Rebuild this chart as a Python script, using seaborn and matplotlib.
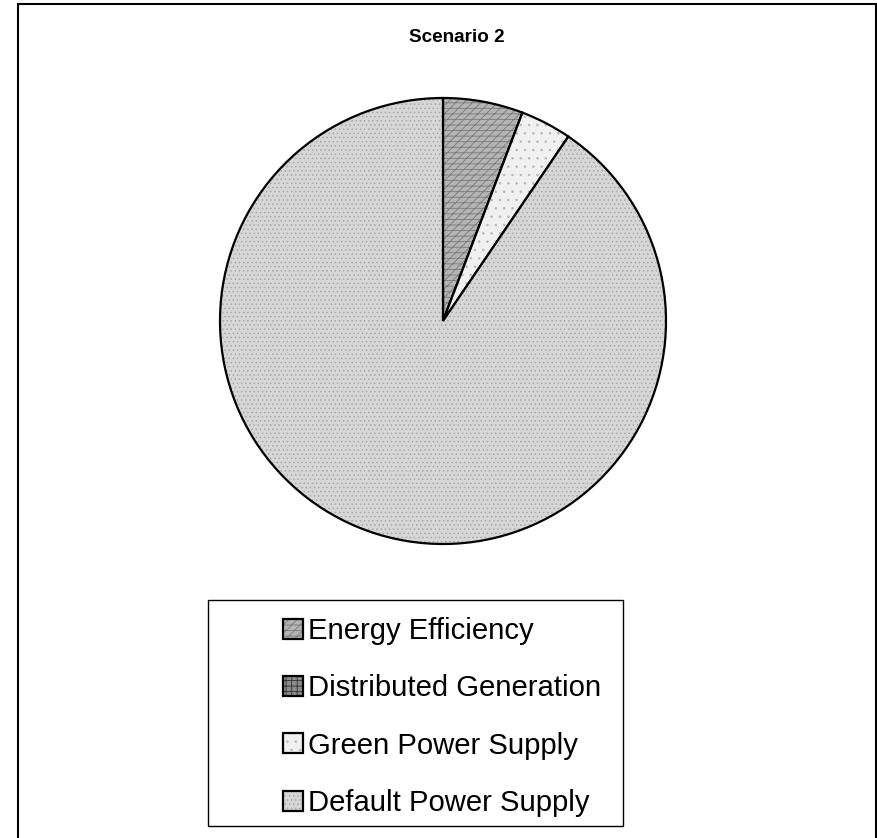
import matplotlib
matplotlib.use("Agg")
import matplotlib.pyplot as plt
import seaborn as sns
from matplotlib.patches import Rectangle, Patch

sns.set_theme(style="white")
plt.rcParams["font.family"] = ["Liberation Sans", "DejaVu Sans"]
plt.rcParams["text.color"] = "black"
plt.rcParams["hatch.linewidth"] = 0.6

title = "Scenario 2"
categories = ["Energy Efficiency", "Distributed Generation",
              "Green Power Supply", "Default Power Supply"]
shares = [5.8, 0.0, 3.7, 90.5]

faces = ["#b4b4b4", "#8c8c8c", "#f0f0f0", "#d6d6d6"]
hatches = ["////---", "+++", "..", "...."]
hatch_colors = ["#7a7a7a", "#303030", "#b8b8b8", "#a8a8a8"]

W, H = 878, 838
fig = plt.figure(figsize=(W / 100, H / 100), dpi=100)
fig.patch.set_facecolor("white")

# outer chart border
fig.patches.append(Rectangle((18 / W, -0.01), (876 - 18) / W, 1 - 4 / H + 0.01,
                             transform=fig.transFigure, fill=False,
                             edgecolor="black", linewidth=1.5))

cx, cy, r = 443, 321, 223
ax = fig.add_axes([(cx - r) / W, 1 - (cy + r) / H, 2 * r / W, 2 * r / H])
wedges, _ = ax.pie(shares, startangle=90, counterclock=False,
                   wedgeprops=dict(edgecolor="black", linewidth=1.6))
for w, fc, hc, ht in zip(wedges, faces, hatch_colors, hatches):
    w.set_facecolor(fc)
    w.set_hatch(ht)
    w._hatch_color = matplotlib.colors.to_rgba(hc)
ax.set_xlim(-1.0, 1.0)
ax.set_ylim(-1.0, 1.0)
ax.axis("off")

fig.text(457 / W, 1 - 37 / H, title, ha="center", va="center",
         fontsize=13.6, fontweight="bold", color="black")

# legend frame
fig.patches.append(Rectangle((208 / W, 1 - 826 / H), (623 - 208) / W, (826 - 600) / H,
                             transform=fig.transFigure, fill=False,
                             edgecolor="black", linewidth=1.0))

handles = []
for fc, hc, ht in zip(faces, hatch_colors, hatches):
    p = Patch(facecolor=fc, edgecolor="black", hatch=ht, linewidth=1.6)
    handles.append(p)
leg = fig.legend(handles, categories, loc="upper left",
                 bbox_to_anchor=(283 / W, 1 - 617 / H), frameon=False,
                 fontsize=21.1, handlelength=0.67, handleheight=0.67,
                 handletextpad=0.2, labelspacing=1.0, borderpad=0,
                 borderaxespad=0)
for p, hc in zip(leg.get_patches(), hatch_colors):
    p._hatch_color = matplotlib.colors.to_rgba(hc)
for t in leg.get_texts():
    t.set_color("black")

fig.savefig("out.png", dpi=100, facecolor="white")
